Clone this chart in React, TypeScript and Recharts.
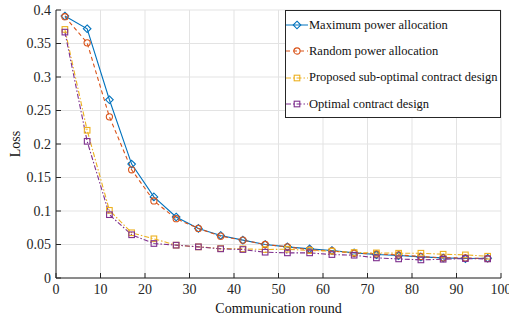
import React from "react";
import { LineChart, Line, XAxis, YAxis, CartesianGrid } from "recharts";

const rounds = [2, 7, 12, 17, 22, 27, 32, 37, 42, 47, 52, 57, 62, 67, 72, 77, 82, 87, 92, 97];
const maxPower = [0.391, 0.372, 0.266, 0.17, 0.121, 0.091, 0.074, 0.0635, 0.0565, 0.05, 0.0465, 0.0435, 0.041, 0.0375, 0.035, 0.0335, 0.0315, 0.03, 0.029, 0.0295];
const randomPower = [0.39, 0.351, 0.2405, 0.1615, 0.115, 0.0885, 0.074, 0.0625, 0.0565, 0.05, 0.0465, 0.042, 0.0405, 0.037, 0.036, 0.0345, 0.032, 0.03, 0.03, 0.029];
const subOptimal = [0.371, 0.2205, 0.101, 0.0675, 0.0585, 0.049, 0.0465, 0.044, 0.0435, 0.0425, 0.043, 0.041, 0.04, 0.038, 0.0375, 0.037, 0.037, 0.0355, 0.0345, 0.0325];
const optimal = [0.367, 0.204, 0.0945, 0.0645, 0.0515, 0.049, 0.0465, 0.0435, 0.0425, 0.0385, 0.0375, 0.0375, 0.035, 0.034, 0.03, 0.0285, 0.027, 0.028, 0.029, 0.0285];

const xTicks = [0, 10, 20, 30, 40, 50, 60, 70, 80, 90, 100];
const yTicks = [0, 0.05, 0.1, 0.15, 0.2, 0.25, 0.3, 0.35, 0.4];

const seriesNames = [
  "Maximum power allocation",
  "Random power allocation",
  "Proposed sub-optimal contract design",
  "Optimal contract design",
];

const rows = rounds.map((r, i) => ({
  round: r,
  maxPower: maxPower[i],
  randomPower: randomPower[i],
  subOptimal: subOptimal[i],
  optimal: optimal[i],
}));

const FONT = "'Liberation Serif', 'Times New Roman', serif";
const AXIS = "#262626";

type Shape = "diamond" | "circle" | "square";

const marker = (shape: Shape, color: string, cx: number, cy: number, key?: string | number) => {
  if (shape === "diamond") {
    const r = 3.8;
    return (
      <polygon key={key} points={`${cx},${cy - r} ${cx + r},${cy} ${cx},${cy + r} ${cx - r},${cy}`}
        fill="none" stroke={color} strokeWidth={1.1} />
    );
  }
  if (shape === "circle") {
    return <circle key={key} cx={cx} cy={cy} r={3.1} fill="none" stroke={color} strokeWidth={1.1} />;
  }
  return <rect key={key} x={cx - 2.8} y={cy - 2.8} width={5.6} height={5.6} fill="none" stroke={color} strokeWidth={1.1} />;
};

const series = [
  { key: "maxPower", color: "#0072BD", shape: "diamond" as Shape, dash: undefined },
  { key: "randomPower", color: "#D95319", shape: "circle" as Shape, dash: "4 3" },
  { key: "subOptimal", color: "#EDB120", shape: "square" as Shape, dash: "5 2 1.5 2" },
  { key: "optimal", color: "#7E2F8E", shape: "square" as Shape, dash: "5 2 1.5 2" },
];

const LegendBox = () => (
  <div
    style={{
      position: "absolute", left: 285, top: 10, width: 216, height: 108, boxSizing: "border-box",
      border: `1px solid ${AXIS}`, background: "#fff", fontFamily: FONT, fontSize: 12.5, color: "#111",
      paddingTop: 1,
    }}
  >
    {series.map((s, i) => (
      <div key={s.key} style={{ display: "flex", alignItems: "center", height: 26.3, whiteSpace: "nowrap" }}>
        <svg width={22} height={10} style={{ marginRight: 1, flexShrink: 0 }}>
          <line x1={0} y1={5} x2={22} y2={5} stroke={s.color} strokeWidth={1} strokeDasharray={s.dash} />
          {marker(s.shape, s.color, 11, 5)}
        </svg>
        <span>{seriesNames[i]}</span>
      </div>
    ))}
  </div>
);

const App: React.FC = () => {
  const tickStyle = { fontFamily: FONT, fontSize: 14, fill: "#262626" };
  return (
    <div style={{ position: "relative", width: 509, height: 318, background: "#fff" }}>
      <style>{`body{margin:0}`}</style>
      <LineChart width={509} height={318} data={rows} margin={{ top: 10, right: 8, bottom: 0, left: 0 }}>
        <CartesianGrid stroke="#e3e3e3" strokeWidth={1} />
        <XAxis
          dataKey="round" type="number" domain={[0, 100]} ticks={xTicks} height={40}
          stroke={AXIS} tickSize={-5} tickMargin={11} tick={tickStyle} interval={0}
          label={{
            content: ({ viewBox }: any) => (
              <text x={viewBox.x + viewBox.width / 2} y={viewBox.y + 35} textAnchor="middle"
                fontFamily={FONT} fontSize={14} fill="#111">Communication round</text>
            ),
          }}
        />
        <XAxis xAxisId="top" orientation="top" type="number" domain={[0, 100]} ticks={xTicks}
          height={0} stroke={AXIS} tickSize={-5} tick={false} />
        <YAxis
          type="number" domain={[0, 0.4]} ticks={yTicks} width={56} stroke={AXIS}
          tickSize={-5} tickMargin={10} tick={tickStyle} interval={0}
          label={{
            content: ({ viewBox }: any) => {
              const x = viewBox.x + 15;
              const y = viewBox.y + viewBox.height / 2;
              return (
                <text x={x} y={y} textAnchor="middle" dominantBaseline="central" transform={`rotate(-90, ${x}, ${y})`}
                  fontFamily={FONT} fontSize={14} fill="#111">Loss</text>
              );
            },
          }}
        />
        <YAxis yAxisId="right" orientation="right" type="number" domain={[0, 0.4]} ticks={yTicks}
          width={0} stroke={AXIS} tickSize={-5} tick={false} />
        {series.map((s) => (
          <Line
            key={s.key}
            dataKey={s.key}
            type="linear"
            stroke={s.color}
            strokeWidth={1.1}
            strokeDasharray={s.dash}
            isAnimationActive={false}
            dot={(p: any) => marker(s.shape, s.color, p.cx, p.cy, `${s.key}-${p.index}`)}
            activeDot={false}
          />
        ))}
      </LineChart>
      <LegendBox />
    </div>
  );
};

export default App;
